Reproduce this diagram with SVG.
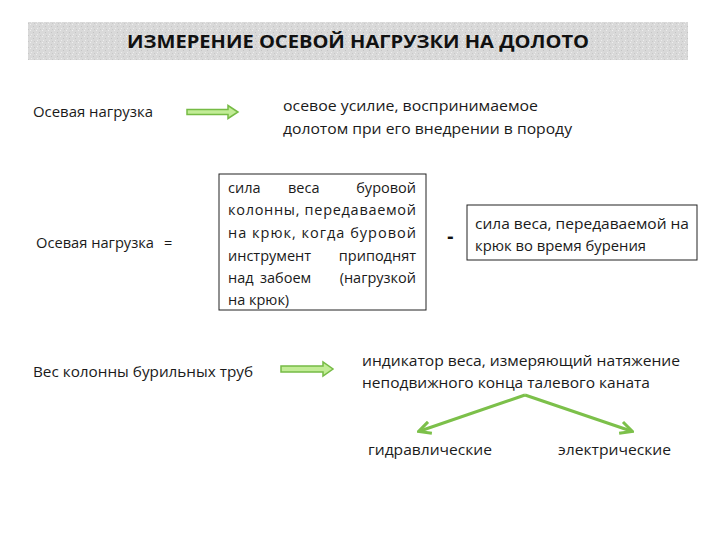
<svg xmlns="http://www.w3.org/2000/svg" width="720" height="540" viewBox="0 0 720 540">
<defs>
<pattern id="tex" width="6" height="6" patternUnits="userSpaceOnUse">
<rect width="6" height="6" fill="#d9d9d9"/>
<rect x="0" y="0" width="1" height="1" fill="#eeeeee"/>
<rect x="3" y="2" width="1" height="1" fill="#c4c4c4"/>
<rect x="1" y="4" width="1" height="1" fill="#ececec"/>
<rect x="4" y="5" width="1" height="1" fill="#c8c8c8"/>
</pattern>
<marker id="ah" viewBox="0 0 10 10" refX="8" refY="5" markerWidth="5" markerHeight="5" orient="auto">
<path d="M1,1 L9,5 L1,9" fill="none" stroke="#7cc04a" stroke-width="2"/>
</marker>
</defs>
<style>
.t{font-family:"Open Sans","Liberation Sans",sans-serif;font-size:14.5px;fill:#1a1a1a}
.box{fill:#ffffff;stroke:#222;stroke-width:1}
.barrow{fill:#c2ec96;stroke:#76bb45;stroke-width:1.5}
.conn{fill:none;stroke:#7cc04a;stroke-width:3}
</style>
<rect width="720" height="540" fill="#ffffff"/>
<g id="title">
<rect x="28" y="22" width="660" height="38" fill="url(#tex)"/>
<text x="358" y="48" text-anchor="middle" style="font-family:'Open Sans','Liberation Sans',sans-serif;font-size:18.5px;font-weight:bold;fill:#111" textLength="462" lengthAdjust="spacingAndGlyphs">ИЗМЕРЕНИЕ ОСЕВОЙ НАГРУЗКИ НА ДОЛОТО</text>
</g>
<g id="n1">
<text class="t" x="33" y="117" textLength="120" lengthAdjust="spacingAndGlyphs">Осевая нагрузка</text>
</g>
<g id="n2">
<text class="t" x="283" y="111" textLength="255" lengthAdjust="spacingAndGlyphs">осевое усилие, воспринимаемое</text>
<text class="t" x="283" y="134" textLength="289" lengthAdjust="spacingAndGlyphs">долотом при его внедрении в породу</text>
</g>
<g id="n3">
<text class="t" x="36" y="248" textLength="118" lengthAdjust="spacingAndGlyphs">Осевая нагрузка</text>
<text class="t" x="164" y="248">=</text>
</g>
<g id="n4">
<rect class="box" x="219" y="174" width="207" height="136"/>
<text class="t" x="228" y="193">сила</text>
<text class="t" x="288" y="193">веса</text>
<text class="t" x="416" y="193" text-anchor="end">буровой</text>
<text class="t" x="228" y="215" textLength="188" lengthAdjust="spacing">колонны, передаваемой</text>
<text class="t" x="228" y="238" textLength="188" lengthAdjust="spacing">на крюк, когда буровой</text>
<text class="t" x="228" y="261">инструмент</text>
<text class="t" x="416" y="261" text-anchor="end">приподнят</text>
<text class="t" x="228" y="283">над</text>
<text class="t" x="260" y="283">забоем</text>
<text class="t" x="416" y="283" text-anchor="end">(нагрузкой</text>
<text class="t" x="228" y="305">на крюк)</text>
</g>
<g id="n5">
<text x="447" y="243" style="font-family:'Liberation Sans',sans-serif;font-size:20px;font-weight:bold;fill:#111">-</text>
</g>
<g id="n6">
<rect class="box" x="467" y="205" width="230" height="55"/>
<text class="t" x="475" y="229" textLength="214" lengthAdjust="spacingAndGlyphs">сила веса, передаваемой на</text>
<text class="t" x="475" y="251" textLength="171" lengthAdjust="spacingAndGlyphs">крюк во время бурения</text>
</g>
<g id="n7">
<text class="t" x="33" y="377" textLength="220" lengthAdjust="spacingAndGlyphs">Вес колонны бурильных труб</text>
</g>
<g id="n8">
<text class="t" x="362" y="366" textLength="318" lengthAdjust="spacingAndGlyphs">индикатор веса, измеряющий натяжение</text>
<text class="t" x="362" y="388" textLength="288" lengthAdjust="spacingAndGlyphs">неподвижного конца талевого каната</text>
</g>
<g id="n9">
<text class="t" x="368" y="455" textLength="124" lengthAdjust="spacingAndGlyphs">гидравлические</text>
</g>
<g id="n10">
<text class="t" x="558" y="455" textLength="113" lengthAdjust="spacingAndGlyphs">электрические</text>
</g>
<g id="connectors">
<path class="barrow" d="M187,109.5 H228 V105.5 L238,112 L228,118.5 V114.5 H187 Z"/>
<path class="barrow" d="M281,366 H323 V362 L333,369 L323,376 V372 H281 Z"/>
<path class="conn" d="M525,395 L420,431" marker-end="url(#ah)"/>
<path class="conn" d="M525,395 L631,431" marker-end="url(#ah)"/>
</g>
</svg>
